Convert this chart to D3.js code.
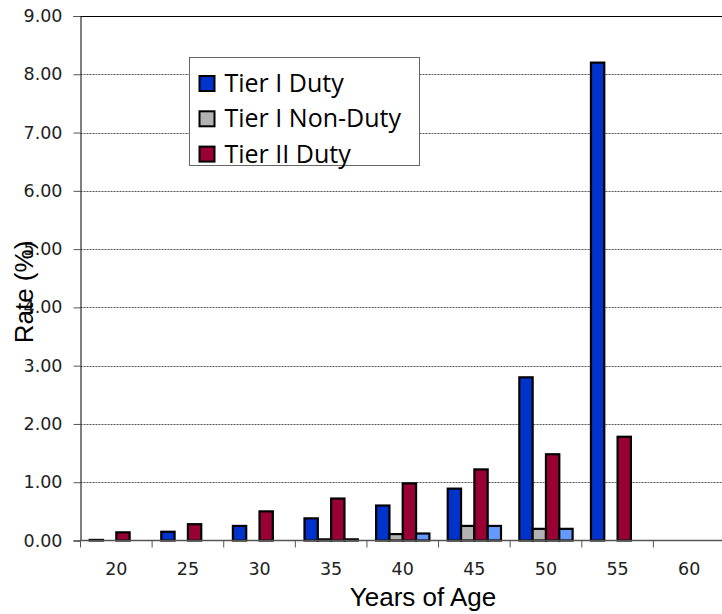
<!DOCTYPE html>
<html>
<head>
<meta charset="utf-8">
<script src="https://cdn.jsdelivr.net/npm/d3@7"></script>
<style>
  body { margin: 0; background: #fff; }
  svg { display: block; }
  .tick-label { font-family: "DejaVu Sans", sans-serif; font-size: 17.5px; fill: #222; }
  .axis-title { font-family: "Liberation Sans", Arial, sans-serif; font-size: 26px; fill: #000; }
  .legend-text { font-family: "Open Sans", sans-serif; font-size: 25px; fill: #000; }
</style>
</head>
<body>
<div id="chart"></div>
<script>
// data
let ages = ["20", "25", "30", "35", "40", "45", "50", "55", "60"];
let seriesNames = ["Tier I Duty", "Tier I Non-Duty", "Tier II Duty", "Tier II Non-Duty"];
let tier1Duty = [0.01, 0.15, 0.25, 0.38, 0.60, 0.89, 2.80, 8.20, null];
let tier1NonDuty = [null, 0, 0, 0.02, 0.11, 0.25, 0.20, null, null];
let tier2Duty = [0.14, 0.28, 0.50, 0.72, 0.98, 1.22, 1.48, 1.78, null];
let tier2NonDuty = [null, 0, 0, 0.02, 0.12, 0.25, 0.20, null, null];
let yTicks = [0, 1, 2, 3, 4, 5, 6, 7, 8, 9];
let legendNames = ["Tier I Duty", "Tier I Non-Duty", "Tier II Duty"];

let colors = ["#0033cc", "#b2b2b2", "#990033", "#6699ff"];
let allSeries = [tier1Duty, tier1NonDuty, tier2Duty, tier2NonDuty];

let width = 722, height = 614;
let plot = {left: 80.5, right: 725, top: 16, bottom: 540.5};

let svg = d3.select("#chart").append("svg")
    .attr("width", width)
    .attr("height", height);

let y = d3.scaleLinear().domain([0, 9]).range([plot.bottom, plot.top]);
let x0 = d3.scaleBand().domain(ages).range([plot.left, plot.right])
    .paddingInner(0.256).paddingOuter(0.128);
let x1 = d3.scaleBand().domain(d3.range(seriesNames.length)).range([0, x0.bandwidth()]);

// gridlines (dotted), top one solid
svg.append("g")
    .selectAll("line")
    .data(yTicks.filter(t => t > 0))
    .enter().append("line")
    .attr("x1", plot.left).attr("x2", width)
    .attr("y1", d => Math.round(y(d)) + 0.5)
    .attr("y2", d => Math.round(y(d)) + 0.5)
    .attr("stroke", d => d === 9 ? "#000" : "#555")
    .attr("stroke-dasharray", d => d === 9 ? null : "2,1");

// y axis
let yAxis = d3.axisLeft(y).tickValues(yTicks).tickSize(7).tickPadding(11)
    .tickFormat(d3.format(".2f"));
let gy = svg.append("g").attr("transform", `translate(${plot.left},0)`).call(yAxis);
gy.select(".domain").attr("stroke", "#000");
gy.selectAll(".tick line").attr("stroke", "#555");
gy.selectAll(".tick text").attr("class", "tick-label");
gy.attr("font-size", null).attr("font-family", null);

// bars
let groups = svg.append("g")
    .selectAll("g")
    .data(ages)
    .enter().append("g")
    .attr("transform", d => `translate(${x0(d)},0)`);

groups.selectAll("rect")
    .data((d, i) => allSeries.map((s, k) => ({k: k, v: s[i]})).filter(e => e.v !== null))
    .enter().append("rect")
    .attr("x", d => x1(d.k))
    .attr("y", d => y(d.v))
    .attr("width", x1.bandwidth())
    .attr("height", d => y(0) - y(d.v))
    .attr("fill", d => colors[d.k])
    .attr("stroke", "#000")
    .attr("stroke-width", 2.2);

// x axis
let xTickScale = d3.scaleLinear().domain([0, ages.length]).range([plot.left, plot.right]);
let gx = svg.append("g");
gx.append("line")
    .attr("x1", plot.left).attr("x2", width)
    .attr("y1", plot.bottom).attr("y2", plot.bottom)
    .attr("stroke", "#555").attr("stroke-width", 1.5);
gx.selectAll("line.tk")
    .data(d3.range(ages.length + 1))
    .enter().append("line")
    .attr("class", "tk")
    .attr("x1", d => xTickScale(d)).attr("x2", d => xTickScale(d))
    .attr("y1", plot.bottom).attr("y2", plot.bottom + 7)
    .attr("stroke", "#555");
gx.selectAll("text")
    .data(ages)
    .enter().append("text")
    .attr("class", "tick-label")
    .attr("x", d => x0(d) + x0.bandwidth() / 2)
    .attr("y", 575)
    .attr("text-anchor", "middle")
    .text(d => d);

// axis titles
svg.append("text")
    .attr("class", "axis-title")
    .attr("x", 423).attr("y", 606)
    .attr("text-anchor", "middle")
    .text("Years of Age");

svg.append("text")
    .attr("class", "axis-title")
    .attr("transform", "translate(33,292) rotate(-90)")
    .attr("text-anchor", "middle")
    .text("Rate (%)");

// legend
let legend = svg.append("g").attr("transform", "translate(189.5,57.5)");
legend.append("rect")
    .attr("width", 230).attr("height", 108)
    .attr("fill", "#fff").attr("stroke", "#666");
let items = legend.selectAll("g")
    .data(legendNames)
    .enter().append("g")
    .attr("transform", (d, i) => `translate(0,${18.5 + i * 35.3})`);
items.append("rect")
    .attr("x", 10).attr("y", 0)
    .attr("width", 15).attr("height", 15)
    .attr("fill", (d, i) => colors[i])
    .attr("stroke", "#000").attr("stroke-width", 2);
items.append("text")
    .attr("class", "legend-text")
    .attr("x", 35).attr("y", 16)
    .text(d => d);
</script>
</body>
</html>
